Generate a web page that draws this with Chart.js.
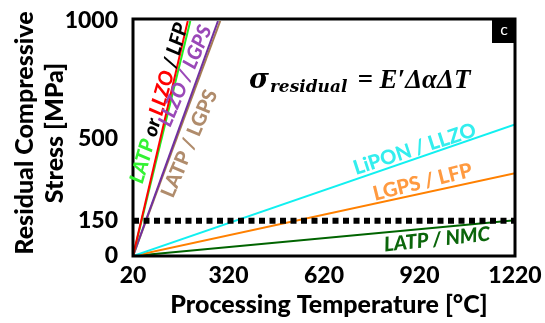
<!DOCTYPE html>
<html>
<head>
<meta charset="utf-8">
<script src="https://cdn.jsdelivr.net/npm/chart.js@4.4.0/dist/chart.umd.min.js"></script>
<style>
  body { margin: 0; background: #fff; }
  #wrap { width: 545px; height: 323px; }
</style>
</head>
<body>
<div id="wrap"><canvas id="c" width="545" height="323"></canvas></div>
<script>
// axis ticks
const xTicks = [20, 320, 620, 920, 1220];
const yTicks = [0, 150, 500, 1000];

// each line starts at room temperature (20 C, 0 MPa)
// steep ones are listed up to where they leave the plot (1000 MPa)
const latpLfpT = [20, 200];
const latpLfpS = [0, 1000];
const llzoLfpT = [20, 192];
const llzoLfpS = [0, 1000];
const llzoLgpsT = [20, 287];
const llzoLgpsS = [0, 1000];
const latpLgpsT = [20, 294];
const latpLgpsS = [0, 1000];
const liponLlzoT = [20, 1220];
const liponLlzoS = [0, 560];
const lgpsLfpT = [20, 1220];
const lgpsLfpS = [0, 352];
const latpNmcT = [20, 1220];
const latpNmcS = [0, 152];
const limitT = [20, 1220];
const limitS = [150, 150];

const FONT = "Lato, 'Open Sans', sans-serif";

function pts(xs, ys) {
  return xs.map((x, i) => ({ x, y: ys[i] }));
}

function line(data, color, order) {
  return {
    data,
    borderColor: color,
    borderWidth: 2,
    pointRadius: 0,
    fill: false,
    tension: 0,
    order,
  };
}

// labels written along the lines: [x, y, angle, italic?, segments]
const lineLabels = [
  [102, 650, -74, true, [["LATP", "#33f233"], [" or ", "#000"], ["LLZO", "#ff0000"], [" / LFP", "#000"]]],
  [184, 766, -67, true, [["LLZO / LGPS", "#9a48b8"]]],
  [197, 478, -67, false, [["LATP / LGPS", "#b08c6c"]]],
  [905, 455, -18, false, [["LiPON / LLZO", "#33eeee"]]],
  [930, 314, -14, false, [["LGPS / LFP", "#ff9a40"]]],
  [975, 70, -6, true, [["LATP / NMC", "#0b660b"]]],
];

const decorations = {
  id: "decorations",
  afterDatasetsDraw(chart) {
    const { ctx, chartArea: a, scales } = chart;
    ctx.save();

    // frame
    ctx.strokeStyle = "#000";
    ctx.lineWidth = 3;
    ctx.strokeRect(a.left, a.top - 2, a.right - a.left, a.bottom - a.top + 2);

    // labels on the lines
    ctx.textAlign = "left";
    ctx.textBaseline = "middle";
    lineLabels.forEach(([x, y, ang, ital, segs]) => {
      ctx.save();
      ctx.font = (ital ? "italic " : "") + "900 20px " + FONT;
      const total = segs.reduce((s, [t]) => s + ctx.measureText(t).width, 0);
      ctx.translate(scales.x.getPixelForValue(x), scales.y.getPixelForValue(y));
      ctx.rotate((ang * Math.PI) / 180);
      let cx = -total / 2;
      segs.forEach(([t, col]) => {
        ctx.fillStyle = col;
        ctx.fillText(t, cx, 0);
        cx += ctx.measureText(t).width;
      });
      ctx.restore();
    });

    // panel letter
    ctx.fillStyle = "#000";
    ctx.fillRect(a.right - 23, a.top - 3, 24, 25);
    ctx.fillStyle = "#fff";
    ctx.font = "16px " + FONT;
    ctx.textAlign = "center";
    ctx.fillText("c", a.right - 11, a.top + 9);

    // equation
    ctx.fillStyle = "#000";
    ctx.textAlign = "left";
    ctx.textBaseline = "alphabetic";
    let ex = 249;
    const ey = 88;
    ctx.font = "italic bold 27px 'DejaVu Serif'";
    ctx.fillText("σ", ex, ey);
    ex += ctx.measureText("σ").width + 1;
    ctx.font = "italic bold 17px 'DejaVu Serif'";
    ctx.fillText("residual", ex, ey + 4);
    ex += ctx.measureText("residual").width + 10;
    ctx.font = "italic bold 27px 'Liberation Serif'";
    ctx.fillText("= E\u2032\u0394\u03b1\u0394T", ex, ey);

    // axis titles
    ctx.font = "900 25px " + FONT;
    ctx.textAlign = "center";
    ctx.fillText("Processing Temperature [°C]", 329, 313);
    ctx.save();
    ctx.translate(0, 133);
    ctx.rotate(-Math.PI / 2);
    ctx.fillText("Residual Compressive", 0, 33);
    ctx.fillText("Stress [MPa]", 0, 63);
    ctx.restore();

    ctx.restore();
  },
};

const tickFont = { family: FONT, size: 23, weight: "900" };

new Chart(document.getElementById("c"), {
  type: "line",
  data: {
    datasets: [
      { ...line(pts(limitT, limitS), "#000", 0), borderWidth: 6, borderDash: [6, 4.5] },
      line(pts(latpLfpT, latpLfpS), "#22ee22", 2),
      line(pts(llzoLfpT, llzoLfpS), "#ff0000", 1),
      line(pts(llzoLgpsT, llzoLgpsS), "#7030a0", 3),
      line(pts(latpLgpsT, latpLgpsS), "#a67c52", 4),
      line(pts(liponLlzoT, liponLlzoS), "#11f0f0", 5),
      line(pts(lgpsLfpT, lgpsLfpS), "#ff8000", 6),
      line(pts(latpNmcT, latpNmcS), "#006400", 7),
    ],
  },
  options: {
    responsive: false,
    animation: false,
    layout: { padding: { left: 0, right: 30, top: 21, bottom: 0 } },
    plugins: { legend: { display: false }, tooltip: { enabled: false } },
    scales: {
      x: {
        type: "linear",
        min: 20,
        max: 1220,
        afterBuildTicks: (s) => { s.ticks = xTicks.map((v) => ({ value: v })); },
        afterFit: (s) => { s.height = 67; s.paddingLeft = 0; s.paddingRight = 0; },
        grid: { display: false, drawTicks: false },
        border: { display: false },
        ticks: { color: "#000", padding: 6, maxRotation: 0, font: tickFont, callback: (v) => String(v) },
      },
      y: {
        min: 0,
        max: 1000,
        afterBuildTicks: (s) => { s.ticks = yTicks.map((v) => ({ value: v })); },
        afterFit: (s) => { s.width = 133; s.paddingTop = 0; s.paddingBottom = 0; },
        grid: { display: false, drawTicks: false },
        border: { display: false },
        ticks: { color: "#000", padding: 15, font: tickFont, callback: (v) => String(v) },
      },
    },
  },
  plugins: [decorations],
});
</script>
</body>
</html>
